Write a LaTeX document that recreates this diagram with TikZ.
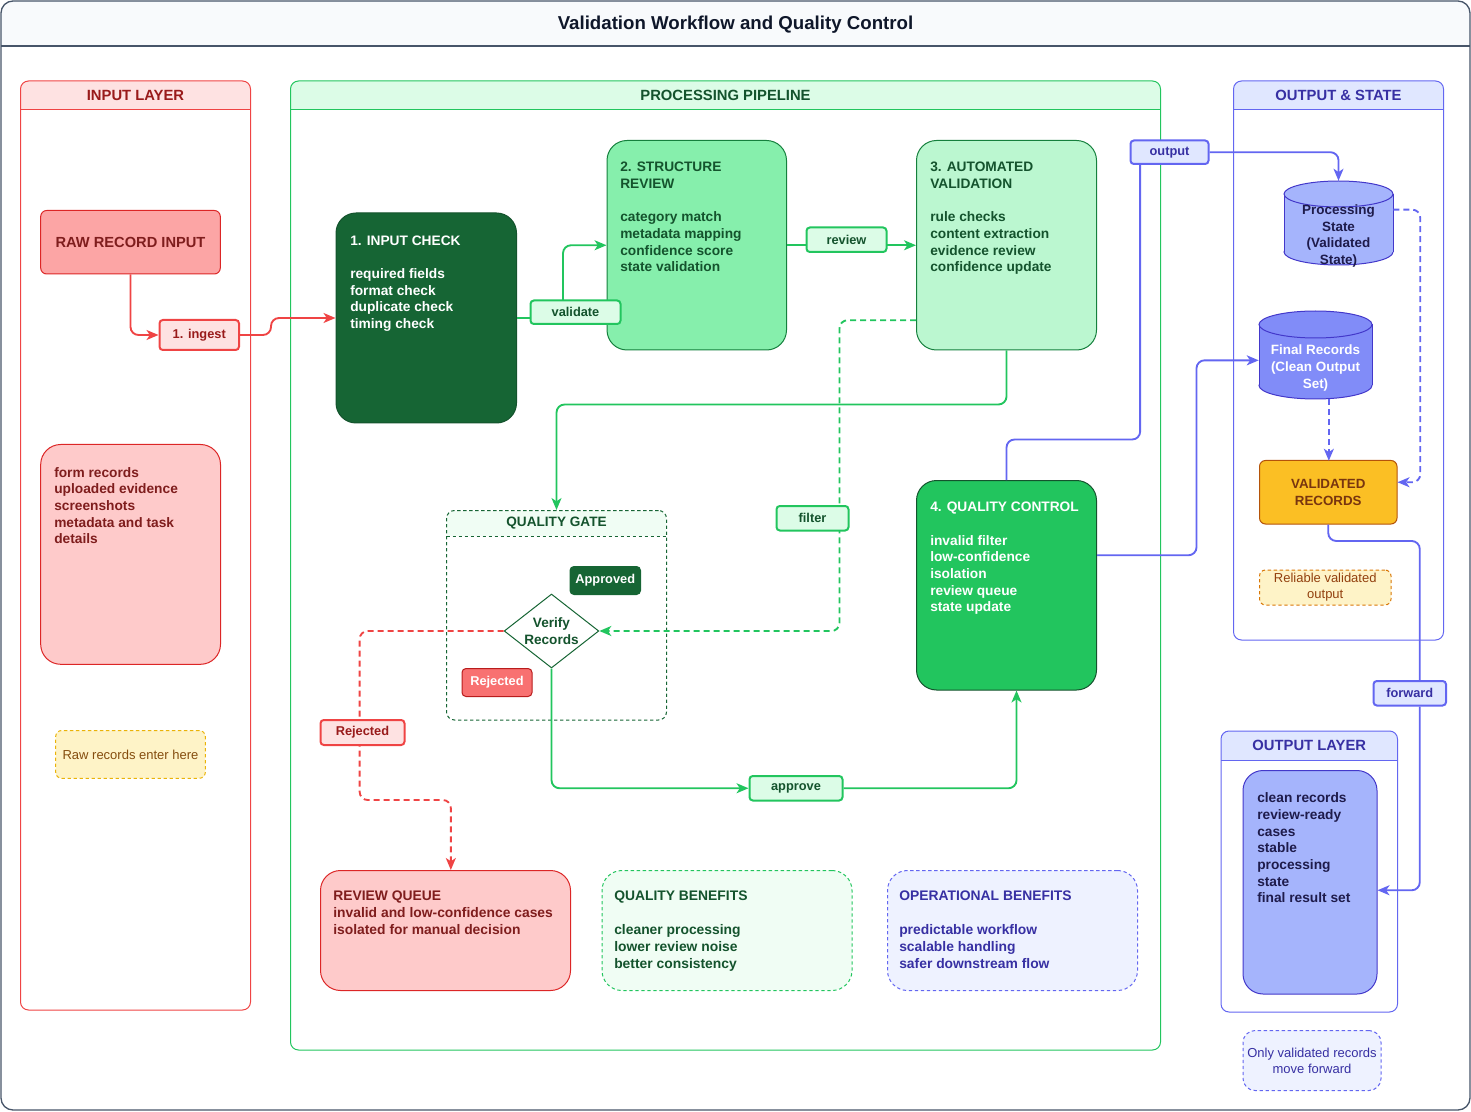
\documentclass[tikz,border=0pt]{standalone}
\usepackage{fontspec}
\setmainfont{Liberation Sans}
\usetikzlibrary{arrows.meta,shapes.geometric,fit}
\pgfdeclarelayer{front}
\pgfsetlayers{main,front}

\definecolor{framec}{HTML}{475569}
\definecolor{framehd}{HTML}{F8FAFC}
\definecolor{titlec}{HTML}{0F172A}
\definecolor{redln}{HTML}{EF4444}
\definecolor{redhd}{HTML}{FEE2E2}
\definecolor{redtx}{HTML}{991B1B}
\definecolor{reddk}{HTML}{7F1D1D}
\definecolor{redbd}{HTML}{DC2626}
\definecolor{redfill}{HTML}{FCA5A5}
\definecolor{redsoft}{HTML}{FECACA}
\definecolor{redtag}{HTML}{F87171}
\definecolor{redtagbd}{HTML}{B91C1C}
\definecolor{grnln}{HTML}{22C55E}
\definecolor{grnhd}{HTML}{DCFCE7}
\definecolor{grntx}{HTML}{14532D}
\definecolor{grndark}{HTML}{166534}
\definecolor{grnbd}{HTML}{15803D}
\definecolor{grnmid}{HTML}{86EFAC}
\definecolor{grnlight}{HTML}{BBF7D0}
\definecolor{grnpale}{HTML}{F0FDF4}
\definecolor{qgln}{HTML}{166534}
\definecolor{qghd}{HTML}{F0FDF4}
\definecolor{qgtx}{HTML}{14532D}
\definecolor{bluln}{HTML}{6366F1}
\definecolor{bluhd}{HTML}{E0E7FF}
\definecolor{blutx}{HTML}{3730A3}
\definecolor{bludk}{HTML}{1E1B4B}
\definecolor{blubd}{HTML}{4338CA}
\definecolor{blusoft}{HTML}{A5B4FC}
\definecolor{blumid}{HTML}{818CF8}
\definecolor{blupale}{HTML}{EEF2FF}
\definecolor{ambfill}{HTML}{FBBF24}
\definecolor{ambbd}{HTML}{B45309}
\definecolor{ambtx}{HTML}{78350F}
\definecolor{notefill}{HTML}{FEF3C7}
\definecolor{notebd}{HTML}{EAB308}
\definecolor{notebdb}{HTML}{D97706}
\definecolor{notetx}{HTML}{854D0E}
\definecolor{notetxb}{HTML}{92400E}

\newcommand\mytitlefont{\fontsize{14}{16}\selectfont\bfseries}
\newcommand\mycontfont{\fontsize{11.1}{13}\selectfont\bfseries}
\newcommand\myboxfont{\fontsize{10.3}{12.5}\selectfont\bfseries}
\newcommand\mybotfont{\fontsize{10.4}{12.75}\selectfont\bfseries}
\newcommand\mylblfont{\fontsize{9.6}{11}\selectfont\bfseries}
\newcommand\mynotefont{\fontsize{9.75}{12}\selectfont}
\newcommand\mycylfont{\fontsize{10.1}{12.5}\selectfont\bfseries}

\newcommand\container[9]{%
  \begin{scope}
    \clip[rounded corners=6pt] (#2,#3) rectangle (#4,#5);
    \fill[#7hd] (#2,#3) rectangle (#4,#6);
  \end{scope}
  \node[fit={(#2,#3)(#4,#5)}, inner sep=0pt, draw=#7ln, line width=0.75pt, rounded corners=6pt, #9] (#1) {};
  \draw[#7ln, line width=0.75pt, #9] (#2,#6) -- (#4,#6);
  \node[font=\mycontfont, text=#7tx, inner sep=0pt] (#1-t) at ({(#2+#4)/2},{(#3+#6)/2}) {#8};
}

\newcommand\cyl[7]{%
  \pgfmathsetmacro\cylcx{(#2+#4)/2}%
  \pgfmathsetmacro\cylrx{(#4-#2)/2}%
  \filldraw[fill=#7, draw=blubd, line width=0.75pt] (\cylcx,#5-#6) ellipse [x radius=\cylrx, y radius=#6];
  \fill[#7] (#2,#3+#6) rectangle (#4,#5-#6);
  \draw[blubd, line width=0.75pt] (#2,#3+#6) -- (#2,#5-#6) (#4,#3+#6) -- (#4,#5-#6);
  \filldraw[fill=#7, draw=blubd, line width=0.75pt] (\cylcx,#3+#6) ellipse [x radius=\cylrx, y radius=#6];
  \node[fit={(#2,#3)(#4,#5)}, inner sep=0pt] (#1) {};
}

\tikzset{
  span/.style n args={4}{minimum width={(#3-#1)*0.75pt}, minimum height={(#4-#2)*0.75pt},
      at={({(#1+#3)/2},{(#2+#4)/2})}, anchor=center},
  bx/.style={inner sep=0pt, line width=0.75pt, align=center},
  txt/.style={inner sep=0pt, align=left, anchor=north west, font=\myboxfont},
  lbl/.style={draw, line width=1.5pt, rounded corners=2.5pt, inner sep=0pt, font=\mylblfont, align=center},
  redlbl/.style={lbl, draw=redln, fill=redhd, text=redtx},
  grnlbl/.style={lbl, draw=grnln, fill=grnhd, text=grntx},
  blulbl/.style={lbl, draw=bluln, fill=bluhd, text=blutx},
  conn/.style={line width=1.4pt, rounded corners=6pt},
  tip/.style={-{Stealth[length=9pt,width=7.5pt,inset=2.5pt]}},
  dsh/.style={dash pattern=on 4.5pt off 3pt},
}

\begin{document}
\begin{tikzpicture}[x=0.75pt,y=-0.75pt]
\useasboundingbox (0,0) rectangle (1471,1112);

% outer frame
\begin{scope}
  \clip[rounded corners=9pt] (1,1) rectangle (1470,1110);
  \fill[framehd] (1,1) rectangle (1470,46);
\end{scope}
\node[fit={(1,1)(1470,1110)}, inner sep=0pt, draw=framec, line width=1pt, rounded corners=9pt] (frame) {};
\draw[framec, line width=1pt] (1,46) -- (1470,46);
\node[font=\mytitlefont, text=titlec] (title) at (735.5,24.5) {Validation Workflow and Quality Control};

% containers
\container{inl}{20.5}{81}{250.5}{1010}{110}{red}{INPUT LAYER}{}
\container{ppl}{290.5}{81}{1160.5}{1050}{110}{grn}{PROCESSING PIPELINE}{}
\container{ost}{1233.5}{81}{1443.5}{640}{110}{blu}{OUTPUT \& STATE}{}
\container{oly}{1221}{731}{1397.5}{1012}{760}{blu}{OUTPUT LAYER}{}
\renewcommand\mycontfont{\fontsize{10.2}{12}\selectfont\bfseries}
\container{qg}{446.5}{510.5}{666.5}{720}{536}{qg}{QUALITY GATE}{dash pattern=on 2.5pt off 2pt}

% input layer boxes
\node[bx, span={40.7}{210.5}{220.3}{274}, draw, fill=redfill, draw=redbd, rounded corners=4.5pt,
      font=\fontsize{11}{13}\selectfont\bfseries, text=reddk] (raw) {RAW RECORD INPUT};
\node[bx, fit={(40.7,444.5)(220.5,664.3)}, fill=redsoft, draw=redbd, rounded corners=15pt] (frm) {};
\node[txt, text=reddk] (frm-t) at (54,467) {form records\\uploaded evidence\\screenshots\\metadata and task\\details};
\node[bx, span={55.7}{730.5}{205.3}{778.3}, fill=notefill, draw=notebd, dash pattern=on 2.5pt off 2pt,
      rounded corners=4.5pt, font=\mynotefont, text=notetx] (rawn) {Raw records enter here};

% pipeline boxes
\node[bx, fit={(336,213)(516.5,423)}, fill=grndark, draw=grntx, rounded corners=15pt] (ic) {};
\node[txt, text=white] (ic-t) at (350,235.3) {1. INPUT CHECK\\[12.5pt]required fields\\format check\\duplicate check\\timing check};
\node[bx, fit={(607,140.5)(786.5,350)}, fill=grnmid, draw=grnbd, rounded corners=15pt] (sr) {};
\node[txt, text=grntx] (sr-t) at (620,162) {2. STRUCTURE\\REVIEW\\[12.5pt]category match\\metadata mapping\\confidence score\\state validation};
\node[bx, fit={(916.5,140.5)(1096.5,350)}, fill=grnlight, draw=grnbd, rounded corners=15pt] (av) {};
\node[txt, text=grntx] (av-t) at (930,162) {3. AUTOMATED\\VALIDATION\\[12.5pt]rule checks\\content extraction\\evidence review\\confidence update};
\node[bx, fit={(916.5,480.5)(1096.5,690)}, fill=grnln, draw=grntx, rounded corners=15pt] (qc) {};
\node[txt, text=white] (qc-t) at (930,502) {4. QUALITY CONTROL\\[12.5pt]invalid filter\\low-confidence\\isolation\\review queue\\state update};

% quality gate content
\node[diamond, draw=grndark, fill=white, line width=0.75pt, minimum width=71pt, minimum height=55.5pt,
      inner sep=0pt, aspect=1.28, font=\fontsize{10.2}{12.75}\selectfont\bfseries, text=grntx, align=center]
      (vrf) at (551.5,631) {Verify\\Records};
\node[bx, span={570}{566.5}{640.5}{594.5}, fill=grndark, draw=grndark, rounded corners=3pt,
      font=\mylblfont, text=white] (appr) {Approved};
\node[bx, span={462}{668.5}{532}{696.5}, fill=redtag, draw=redtagbd, rounded corners=3pt,
      font=\mylblfont, text=white] (rejt) {Rejected};

% bottom boxes
\node[bx, fit={(320.5,870.5)(570.5,990.5)}, fill=redsoft, draw=redbd, rounded corners=15pt] (rq) {};
\node[txt, font=\mybotfont, text=reddk] (rq-t) at (333,890.3) {REVIEW QUEUE\\invalid and low-confidence cases\\isolated for manual decision};
\node[bx, fit={(602,870.5)(852,990.5)}, fill=grnpale, draw=grnln, dash pattern=on 2.5pt off 2pt, rounded corners=15pt] (qb) {};
\node[txt, font=\mybotfont, text=grntx] (qb-t) at (614,890.3) {QUALITY BENEFITS\\[12.75pt]cleaner processing\\lower review noise\\better consistency};
\node[bx, fit={(887.5,870.5)(1137.5,990.5)}, fill=blupale, draw=bluln, dash pattern=on 2.5pt off 2pt, rounded corners=15pt] (ob) {};
\node[txt, font=\mybotfont, text=blutx] (ob-t) at (899,890.3) {OPERATIONAL BENEFITS\\[12.75pt]predictable workflow\\scalable handling\\safer downstream flow};

% output & state
\cyl{ps}{1284}{181}{1393}{265}{13}{blusoft}
\node[font=\mycylfont, text=bludk, align=center, inner sep=0pt] (ps-t) at (1338.5,236) {Processing\\State\\(Validated\\State)};
\cyl{fr}{1259}{311}{1372}{399}{13.5}{blumid}
\node[font=\mycylfont, text=white, align=center, inner sep=0pt] (fr-t) at (1315.5,368) {Final Records\\(Clean Output\\Set)};
\node[bx, span={1259.5}{460.5}{1397}{524}, fill=ambfill, draw=ambbd, rounded corners=4.5pt,
      font=\fontsize{10}{12.75}\selectfont\bfseries, text=ambtx] (vrec) {VALIDATED\\RECORDS};
\node[bx, span={1259.5}{570}{1391}{605}, fill=notefill, draw=notebdb, dash pattern=on 2.5pt off 2pt,
      rounded corners=4.5pt, font=\mynotefont, text=notetxb] (reln) {Reliable validated\\output};

% output layer
\node[bx, fit={(1243,770.5)(1377,994)}, fill=blusoft, draw=blubd, rounded corners=15pt] (oli) {};
\node[txt, text=bludk] (oli-t) at (1257,792.6) {clean records\\review-ready\\cases\\stable\\processing\\state\\final result set};
\node[bx, span={1243}{1030.5}{1381}{1090.5}, fill=blupale, draw=bluln, dash pattern=on 2.5pt off 2pt,
      rounded corners=9pt, font=\mynotefont, text=blutx] (onl) {Only validated records\\move forward};

% edge labels (front layer, defined before connectors)
\begin{pgfonlayer}{front}
\node[redlbl, span={159.5}{320}{239}{350}] (ing) {1. ingest};
\node[grnlbl, span={530.5}{300.5}{620.5}{324}] (val) {validate};
\node[grnlbl, span={806.5}{227.5}{886.5}{252}] (rev) {review};
\node[grnlbl, span={776.5}{506}{848.5}{530.5}] (flt) {filter};
\node[grnlbl, span={749.5}{776}{842.5}{800.5}] (apv) {approve};
\node[redlbl, span={320.5}{720}{404.5}{745}] (rjl) {Rejected};
\node[blulbl, span={1130.5}{140.5}{1208.5}{164}] (out) {output};
\node[blulbl, span={1373.5}{681}{1446}{705.5}] (fwd) {forward};
\end{pgfonlayer}

% connectors: red
\draw[conn, tip, redln] (raw.south) |- (ing.west);
\draw[conn, tip, redln] (ing.east) -- ++(31,0) |- (ic.west);
\draw[conn, tip, redln, dsh] (vrf.west) -- ++(-144,0) -- ++(0,169) -| ([xshift=4pt]rq.north);

% connectors: green
\draw[conn, tip, grnln] (ic.east) -- ++(46,0) |- (sr.west);
\draw[conn, tip, grnln] (sr.east) -- (av.west);
\draw[conn, tip, grnln] (av.south) -- ++(0,54) -| (qg.north);
\draw[conn, tip, grnln, dsh] ([yshift=-56.25pt]av.west) -- ++(-76.5,0) |- (vrf.east);
\draw[conn, tip, grnln] (vrf.south) |- (apv.west);
\draw[conn, tip, grnln] (apv.east) -| ([xshift=7.5pt]qc.south);

% connectors: blue
\draw[conn, bluln] (qc.north) -- ++(0,-40.5) -| ([xshift=-22pt]out.south);
\draw[conn, tip, bluln] (out.east) -| (ps.north);
\draw[conn, tip, bluln] ([yshift=22.5pt]qc.east) -- ++(99.5,0) |- ([yshift=-4pt]fr.west);
\draw[conn, tip, bluln, dsh] ([yshift=10pt]ps.east) -- ++(27,0) |- ([yshift=7.5pt]vrec.east);
\draw[conn, tip, bluln, dsh] ([xshift=10pt]fr.south) -- ++(0,61.5);
\draw[conn, bluln] (vrec.south) -- ++(0,16.5) -| ([xshift=7.5pt]fwd.north);
\draw[conn, tip, bluln] ([xshift=7.5pt]fwd.south) |- ([yshift=-6pt]oli.east);
\end{tikzpicture}
\end{document}
